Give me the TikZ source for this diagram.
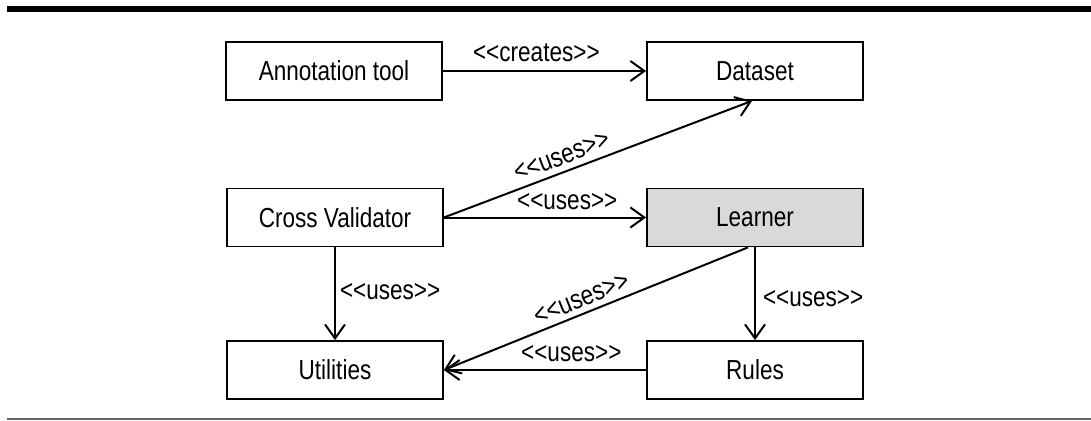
\documentclass[tikz,border=0pt]{standalone}
\usepackage{fontspec}
\setmainfont{Liberation Sans}[FakeStretch=0.82]
\usetikzlibrary{arrows.meta}
\begin{document}
\begin{tikzpicture}[x=1pt,y=-1pt,
  font=\fontsize{27.5}{30}\selectfont,
  module/.style={draw, line width=1.8pt, minimum width=216pt, minimum height=58pt, inner sep=0pt},
  core/.style={module, fill=black!15},
  dep/.style={line width=2pt},
  >={Straight Barb[length=14pt,width=20pt]},
  tag/.style={inner sep=0pt}]
  \useasboundingbox (0,0) rectangle (1091,420);

  % page rules
  \fill (7,6.5) rectangle (1091,12.5);
  \draw[black!60, line width=2pt] (7,418.5) -- (1091,418.5);

  % modules
  \node[module] (annot)   at (334,71)    {Annotation tool};
  \node[module] (dataset) at (755,71)    {Dataset};
  \node[module] (cv)      at (335,217.5) {Cross Validator};
  \node[core]   (learner) at (755,217.5) {Learner};
  \node[module] (util)    at (335,370)   {Utilities};
  \node[module] (rules)   at (755,370)   {Rules};

  % dependencies
  \draw[dep,->] (annot) -- node[tag, above=8pt, pos=0.46] {<{}<creates>{}>} (dataset);
  \draw[dep,->] (cv) -- node[tag, above=7pt, pos=0.61] {<{}<uses>{}>} (learner);
  \draw[dep,->] (cv.east) -- node[tag, sloped, above=6pt, pos=0.40] {<{}<uses>{}>} ([xshift=-3pt]dataset.south);
  \draw[dep,->] (cv) -- node[tag, right=4pt, pos=0.48] {<{}<uses>{}>} (util);
  \draw[dep,->] (learner) -- node[tag, right=7pt, pos=0.55] {<{}<uses>{}>} (rules);
  \draw[dep,<-] (util.east) -- node[tag, sloped, above=5pt, pos=0.47] {<{}<uses>{}>} ([xshift=-7pt]learner.south);
  \draw[dep,->] (rules) -- node[tag, above=7pt, pos=0.37] {<{}<uses>{}>} (util);
\end{tikzpicture}
\end{document}
